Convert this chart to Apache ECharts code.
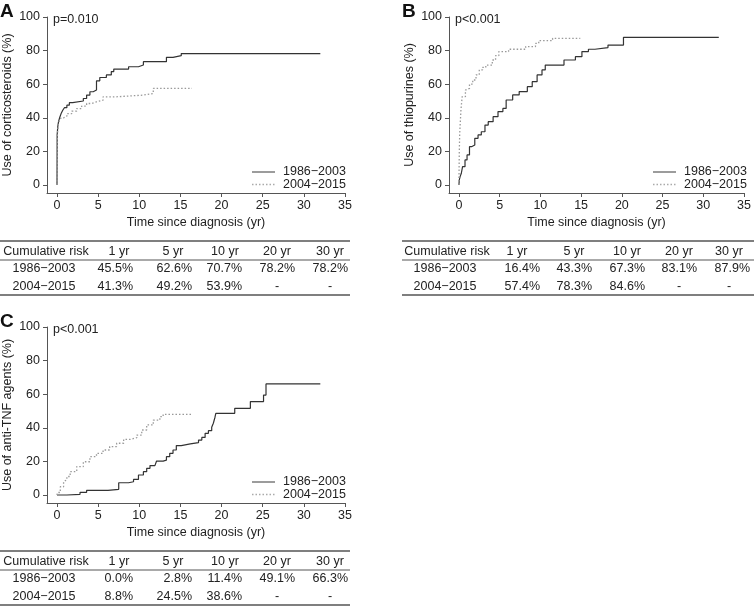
<!DOCTYPE html>
<html>
<head>
<meta charset="utf-8">
<script src="https://cdn.jsdelivr.net/npm/echarts@6/dist/echarts.min.js"></script>
<style>
html,body{margin:0;padding:0;background:#fff;}
#chart{width:754px;height:609px;}
</style>
</head>
<body>
<div id="chart"></div>
<script>
// ---------------- DATA ----------------
const groupNames = ['1986\u22122003', '2004\u22122015'];
const panelLetters = ['A', 'B', 'C'];
const pValues = ['p=0.010', 'p<0.001', 'p<0.001'];
const yTitles = ['Use of corticosteroids (%)', 'Use of thiopurines (%)', 'Use of anti-TNF agents (%)'];
const xTitle = 'Time since diagnosis (yr)';
const xTicks = [0, 5, 10, 15, 20, 25, 30, 35];
const yTicks = [0, 20, 40, 60, 80, 100];

// [time (yr), cumulative use (%)]
const steroidOld = [[0,0],[0.02,30],[0.1,35],[0.2,38],[0.35,40.5],[0.5,42.5],[0.7,44.5],[0.9,46],[1.2,47.5],[1.5,49],[1.9,50],[3.2,51.5],[3.6,53.5],[4.0,55.5],[4.4,56.5],[4.8,62],[5.2,64],[6.0,65.5],[6.6,67.5],[6.9,69],[8.7,70.4],[9.9,71.4],[10.5,73.4],[13.3,76],[14.1,77],[15.1,78.2],[32,78.2]];
const steroidNew = [[0,0],[0.05,30],[0.15,36],[0.3,38.5],[0.5,40],[0.8,41],[1.2,42.5],[1.8,44],[2.4,45.5],[3.0,47],[3.6,48.5],[4.2,49.5],[4.8,50.5],[5.6,52.5],[7.2,53.5],[10.5,54.5],[11.7,57.5],[16.4,57.5]];
const thioOld = [[0,0],[0.05,3],[0.15,5],[0.3,7],[0.45,10.9],[0.75,14.9],[1.0,17.9],[1.3,22.8],[1.55,23.8],[1.95,27.8],[2.35,29.8],[2.75,31.7],[3.2,35.7],[3.6,37.7],[4.2,40.7],[4.8,43.7],[5.4,45.6],[5.8,50.6],[6.6,53.6],[7.4,55.6],[8.4,58.5],[9.0,61.5],[9.6,65.5],[10.2,68.5],[10.6,71.4],[12.9,74.4],[14.3,76.4],[15.1,79.4],[15.9,80.8],[16.7,81.8],[18.3,83.3],[20.2,87.9],[31.9,87.9]];
const thioNew = [[0,0],[0.05,20],[0.1,30.8],[0.25,44.6],[0.4,52.6],[0.8,56.5],[1.0,57.5],[1.3,60],[1.7,62.5],[2.1,65.5],[2.5,68.5],[2.9,70],[3.3,71.4],[4.1,74.4],[4.5,77],[4.9,79.4],[6.1,80.8],[8.2,82.4],[9.4,84.3],[9.8,85.9],[11.5,87.3],[14.9,87.3]];
const tnfOld = [[0,0],[1.2,0.4],[2.8,1.6],[3.6,2.8],[6.2,3.4],[7.5,7.3],[8.7,7.9],[9.3,9.3],[9.9,11.9],[10.5,13.9],[10.9,15.9],[11.3,17.5],[11.9,17.9],[12.1,20.2],[12.9,20.8],[13.3,22.8],[13.7,24.8],[14.1,26.8],[14.5,29.4],[15.1,30.4],[16.2,31.2],[17.2,32.7],[17.6,34.3],[18.0,36.7],[18.4,38.3],[18.8,40.3],[19.0,42.7],[19.2,46.3],[19.3,48.6],[21.6,51.6],[23.5,55.6],[25.1,59.5],[25.4,66.1],[32,66.1]];
const tnfNew = [[0,0],[0.05,1.5],[0.4,4.9],[0.8,8],[1.0,9],[1.2,11],[1.6,13.9],[2.4,16.9],[3.2,19.8],[4.0,22.8],[4.8,24.8],[5.6,26.8],[6.4,28.8],[7.25,30.8],[8.1,33.1],[8.9,34.1],[9.7,35.7],[10.3,38.7],[10.9,41.7],[11.7,44.6],[12.5,46.6],[12.9,48],[16.4,48]];

const tableHeader = ['Cumulative risk', '1 yr', '5 yr', '10 yr', '20 yr', '30 yr'];
const steroidRisk = [['45.5%','62.6%','70.7%','78.2%','78.2%'], ['41.3%','49.2%','53.9%','-','-']];
const thioRisk = [['16.4%','43.3%','67.3%','83.1%','87.9%'], ['57.4%','78.3%','84.6%','-','-']];
const tnfRisk = [['0.0%','2.8%','11.4%','49.1%','66.3%'], ['8.8%','24.5%','38.6%','-','-']];

// ---------------- LAYOUT ----------------
const FONT = "'Liberation Sans', Arial, sans-serif";
const FS = 12.5;
const TXT = '#222';
const SOLID = {color:'#333', width:1.2, type:'solid'};
const DOTTED = {color:'#999', width:1.3, type:[1.5,2]};
const panels = [
  {grid:{left:47, top:17, width:298, height:176}, curves:[steroidOld, steroidNew], risk:steroidRisk,
   table:{x0:0, x1:350, top:241, labelX:46, colX:[119,173,225,277,330], valR:[133,192,242,295,348]},
   legendLeft:252, letter:[0,10]},
  {grid:{left:449, top:17, width:298, height:176}, curves:[thioOld, thioNew], risk:thioRisk,
   table:{x0:402, x1:754, top:241, labelX:447, colX:[517,574,627,679,729], valR:[540,592,645,697,750]},
   legendLeft:653, letter:[402,10]},
  {grid:{left:47, top:327, width:298, height:176}, curves:[tnfOld, tnfNew], risk:tnfRisk,
   table:{x0:0, x1:350, top:551, labelX:46, colX:[119,173,225,277,330], valR:[133,192,242,295,348]},
   legendLeft:252, letter:[0,320]}
];
// axis extents chosen so that 0 sits 10px inside the axis lines
const X_MIN = -1.215, X_MAX = 35;
const Y_MIN = -4.76, Y_MAX = 100;

const grids = [], xAxes = [], yAxes = [], series = [], graphics = [];
const axisLine = {lineStyle:{color:'#555', width:1}};
const textEl = (str, x, y, align, extra) => ({type:'text', silent:true, x:x, y:y,
  style:Object.assign({text:str, fill:TXT, font:FS + "px " + FONT, textAlign:align, textVerticalAlign:'middle'}, extra || {})});

panels.forEach((p, i) => {
  grids.push(Object.assign({}, p.grid));
  xAxes.push({
    gridIndex:i, type:'value', min:X_MIN, max:X_MAX,
    axisLine:Object.assign({onZero:false}, axisLine),
    axisTick:{show:true, length:4, customValues:xTicks, lineStyle:{color:'#555'}},
    axisLabel:{customValues:xTicks, margin:6, color:TXT, fontFamily:FONT, fontSize:FS},
    splitLine:{show:false},
    name:xTitle, nameLocation:'middle', nameGap:23,
    nameTextStyle:{color:TXT, fontFamily:FONT, fontSize:FS}
  });
  yAxes.push({
    gridIndex:i, type:'value', min:Y_MIN, max:Y_MAX,
    axisLine:Object.assign({onZero:false}, axisLine),
    axisTick:{show:true, length:4, customValues:yTicks, lineStyle:{color:'#555'}},
    axisLabel:{customValues:yTicks, margin:7, color:TXT, fontFamily:FONT, fontSize:FS},
    splitLine:{show:false},
    name:yTitles[i], nameLocation:'middle', nameGap:33, nameRotate:90,
    nameTextStyle:{color:TXT, fontFamily:FONT, fontSize:FS}
  });
  series.push({
    name:groupNames[0], type:'line', xAxisIndex:i, yAxisIndex:i, step:'end', symbol:'none',
    data:p.curves[0], lineStyle:SOLID, itemStyle:{color:SOLID.color}, animation:false
  });
  series.push({
    name:groupNames[1], type:'line', xAxisIndex:i, yAxisIndex:i, step:'end', symbol:'none',
    data:p.curves[1], lineStyle:DOTTED, itemStyle:{color:DOTTED.color}, animation:false
  });
  // legend (drawn as graphic)
  const ly = [p.grid.top + 155, p.grid.top + 167.5];
  [SOLID, DOTTED].forEach((ls, k) => {
    graphics.push({type:'line', silent:true,
      shape:{x1:p.legendLeft, y1:ly[k], x2:p.legendLeft + 23, y2:ly[k]},
      style:{stroke:k === 0 ? '#666' : '#aaa', lineWidth:1.3, lineDash:k === 0 ? null : [1.5,2]}});
    graphics.push(textEl(groupNames[k], p.legendLeft + 31, ly[k], 'left'));
  });
  // panel letter
  graphics.push({type:'text', left:p.letter[0], top:p.letter[1]-8, silent:true,
    style:{text:panelLetters[i], fill:'#111', font:"bold 19px " + FONT}});
  // p value
  graphics.push(textEl(pValues[i], p.grid.left + 6, p.grid.top + 3, 'left'));
  // table
  const t = p.table;
  const yHead = t.top + 11, yLine = t.top + 19, yR1 = t.top + 28, yR2 = t.top + 46, yBot = t.top + 54;
  [[t.top, 1.3], [yLine, 1], [yBot, 1.3]].forEach(([yy, w]) => {
    graphics.push({type:'line', silent:true, shape:{x1:t.x0, y1:yy, x2:t.x1, y2:yy},
      style:{stroke:'#555', lineWidth:w}});
  });
  graphics.push(textEl(tableHeader[0], t.labelX, yHead, 'center'));
  for (let c = 1; c < tableHeader.length; c++) graphics.push(textEl(tableHeader[c], t.colX[c-1], yHead, 'center'));
  [yR1, yR2].forEach((yy, r) => {
    graphics.push(textEl(groupNames[r], t.labelX - 2, yy, 'center'));
    p.risk[r].forEach((v, c) => {
      if (v === '-') graphics.push(textEl(v, t.colX[c], yy, 'center'));
      else graphics.push(textEl(v, t.valR[c], yy, 'right'));
    });
  });
});

const chart = echarts.init(document.getElementById('chart'), null, {renderer:'canvas'});
chart.setOption({
  animation:false,
  backgroundColor:'#fff',
  textStyle:{fontFamily:FONT},
  grid:grids, xAxis:xAxes, yAxis:yAxes, series:series,
  graphic:{elements:graphics}
});
</script>
</body>
</html>
